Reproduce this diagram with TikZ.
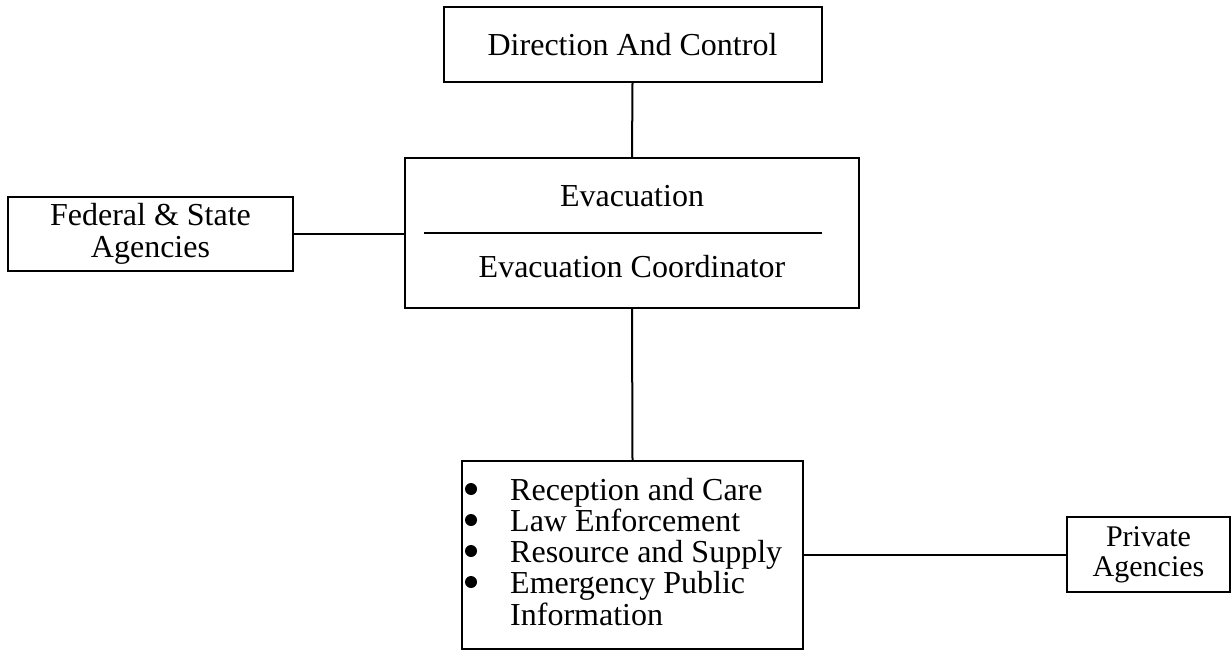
\documentclass[tikz,border=0pt]{standalone}
\usepackage{fontspec}
\setmainfont{Liberation Serif}
\begin{document}
\begin{tikzpicture}[x=1pt,y=-1pt,
  box/.style={draw,line width=2pt,rectangle,inner sep=0pt},
  link/.style={line width=2pt},
  dot/.style={circle,fill,inner sep=0pt,minimum size=12pt},
  label/.style={inner sep=0pt,font=\fontsize{32}{32}\selectfont}]
\useasboundingbox (0,0) rectangle (1232,650);

% top box
\node[box,minimum width=378pt,minimum height=75pt,font=\fontsize{32}{32}\selectfont]
  (dir) at (632.5,44.5) {Direction And Control};

% central evacuation box with divider
\node[box,minimum width=454pt,minimum height=150pt] (evac) at (632,233) {};
\coordinate (divl) at (424,233);
\coordinate (divr) at (822,233);
\draw[link] (divl) -- (divr);
\node[label,anchor=base] (evtitle) at (632,207) {Evacuation};
\node[label,anchor=base] (evcoord) at (632,277) {Evacuation Coordinator};

% left box
\node[box,minimum width=285pt,minimum height=74pt,align=center,
  font=\fontsize{32}{32}\selectfont] (fed) at (150.5,234) {Federal \& State\\Agencies};

% bottom box with list (anchored at the baseline of its last line)
\node[box,minimum width=341pt,minimum height=188pt] (list) at (632.5,555) {};
\node[label,anchor=base west,align=left,font=\fontsize{32}{31.25}\selectfont]
  (items) at (510,625)
  {Reception and Care\\
   Law Enforcement\\
   Resource and Supply\\
   Emergency Public\\
   Information};
% list bullets
\node[dot] (b1) at (471,489) {};
\node[dot] (b2) at (471,520) {};
\node[dot] (b3) at (471,551) {};
\node[dot] (b4) at (471,582) {};

% right box
\node[box,minimum width=163pt,minimum height=75pt,align=center,
  font=\fontsize{30}{30}\selectfont] (priv) at (1148.5,554.5) {Private\\Agencies};

% connectors
\draw[link] (dir.south) -- (evac.north);
\draw[link] (fed.east) -- (evac.west |- fed.east);
\draw[link] (evac.south) -- (list.north);
\draw[link] (list.east |- priv.west) -- (priv.west);
\end{tikzpicture}
\end{document}
